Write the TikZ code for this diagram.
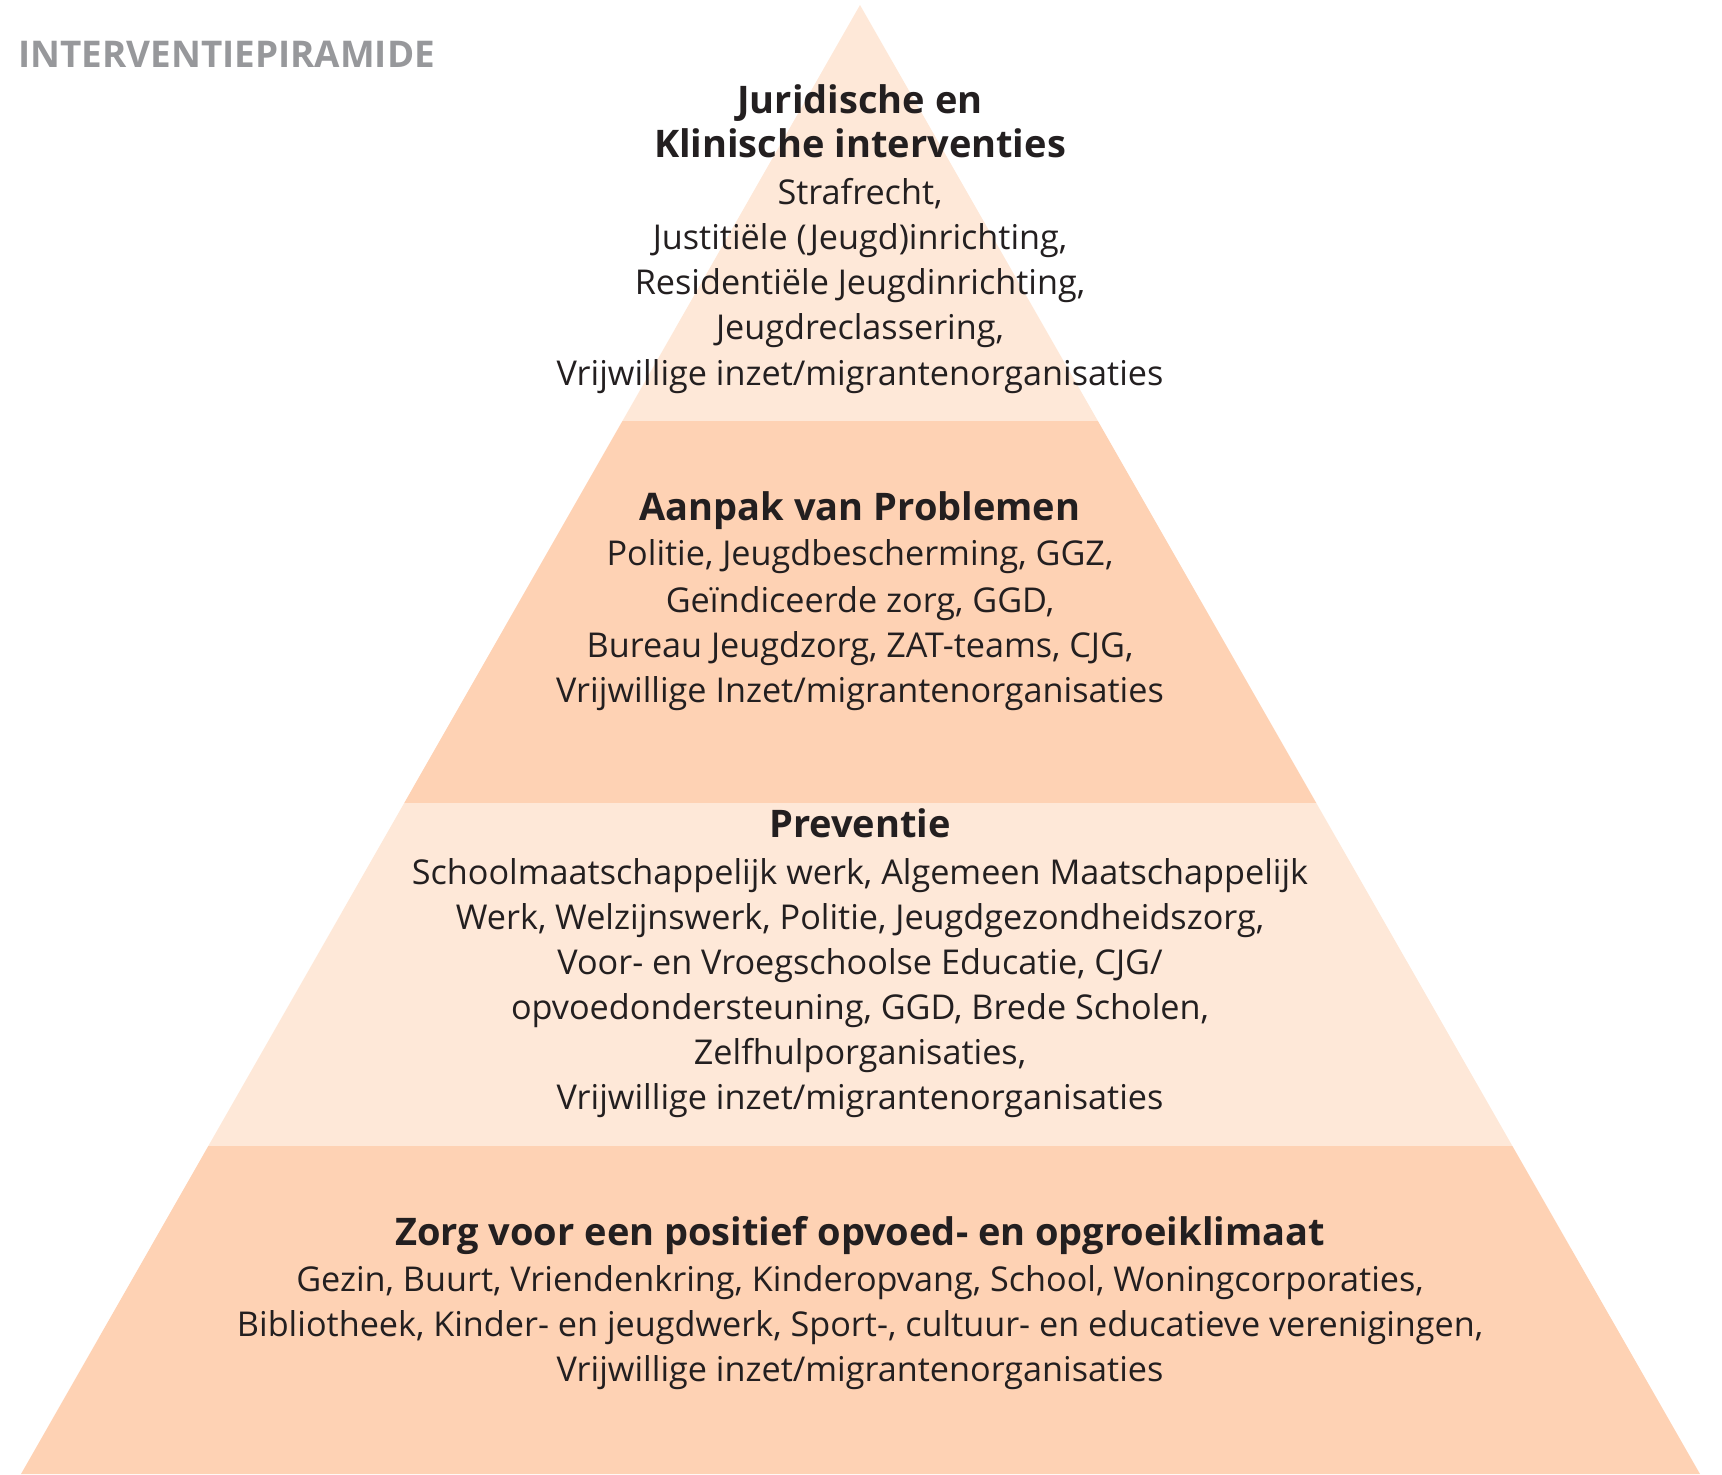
\documentclass[tikz,border=0pt]{standalone}
\usepackage{fontspec}
\setmainfont{Open Sans}
\definecolor{bandlight}{HTML}{FEE8D8}
\definecolor{banddark}{HTML}{FED2B4}
\definecolor{txt}{HTML}{231F20}
\definecolor{titlegray}{HTML}{97989B}
\tikzset{
  head/.style={anchor=base, inner sep=0pt, text=txt, font=\bfseries\fontsize{19}{22}\selectfont},
  body/.style={anchor=base, inner sep=0pt, text=txt, font=\fontsize{17.1}{20}\selectfont},
  ttl/.style={anchor=base west, inner sep=0pt, text=titlegray, font=\bfseries\fontsize{18.4}{24}\selectfont}
}
\begin{document}
\begin{tikzpicture}[x=0.5pt,y=-0.5pt]
\useasboundingbox (0,0) rectangle (1722,1474);
% bands
\fill[bandlight] (860,5) -- (1097.9,421) -- (622.4,421) -- cycle;
\fill[banddark] (622.4,421) -- (1097.9,421) -- (1316.3,803) -- (404.2,803) -- cycle;
\fill[bandlight] (404.2,803) -- (1316.3,803) -- (1512.4,1146) -- (208.3,1146) -- cycle;
\fill[banddark] (208.3,1146) -- (1512.4,1146) -- (1700,1474) -- (21,1474) -- cycle;
% title
\node[ttl] (title) at (18,67.5) {INTERVENTIEPIRAMIDE};
% band 1
\node[head] (a1) at (860,113) {Juridische en};
\node[head] (a2) at (860,157) {Klinische interventies};
\node[body] (a3) at (860,204) {Strafrecht,};
\node[body] (a4) at (860,249) {Justitiële (Jeugd)inrichting,};
\node[body] (a5) at (860,294) {Residentiële Jeugdinrichting,};
\node[body] (a6) at (860,339) {Jeugdreclassering,};
\node[body] (a7) at (860,385) {Vrijwillige inzet/migrantenorganisaties};
% band 2
\node[head] (b1) at (860,520) {Aanpak van Problemen};
\node[body] (b2) at (860,565) {Politie, Jeugdbescherming, GGZ,};
\node[body] (b3) at (860,612) {Geïndiceerde zorg, GGD,};
\node[body] (b4) at (860,657) {Bureau Jeugdzorg, ZAT-teams, CJG,};
\node[body] (b5) at (860,702) {Vrijwillige Inzet/migrantenorganisaties};
% band 3
\node[head] (c1) at (860,837) {Preventie};
\node[body] (c2) at (860,884) {Schoolmaatschappelijk werk, Algemeen Maatschappelijk};
\node[body] (c3) at (860,929) {Werk, Welzijnswerk, Politie, Jeugdgezondheidszorg,};
\node[body] (c4) at (860,974) {Voor- en Vroegschoolse Educatie, CJG/};
\node[body] (c5) at (860,1019) {opvoedondersteuning, GGD, Brede Scholen,};
\node[body] (c6) at (860,1064) {Zelfhulporganisaties,};
\node[body] (c7) at (860,1109) {Vrijwillige inzet/migrantenorganisaties};
% band 4
\node[head] (d1) at (860,1245) {Zorg voor een positief opvoed- en opgroeiklimaat};
\node[body] (d2) at (860,1291) {Gezin, Buurt, Vriendenkring, Kinderopvang, School, Woningcorporaties,};
\node[body] (d3) at (860,1336) {Bibliotheek, Kinder- en jeugdwerk, Sport-, cultuur- en educatieve verenigingen,};
\node[body] (d4) at (860,1381) {Vrijwillige inzet/migrantenorganisaties};
\end{tikzpicture}
\end{document}
